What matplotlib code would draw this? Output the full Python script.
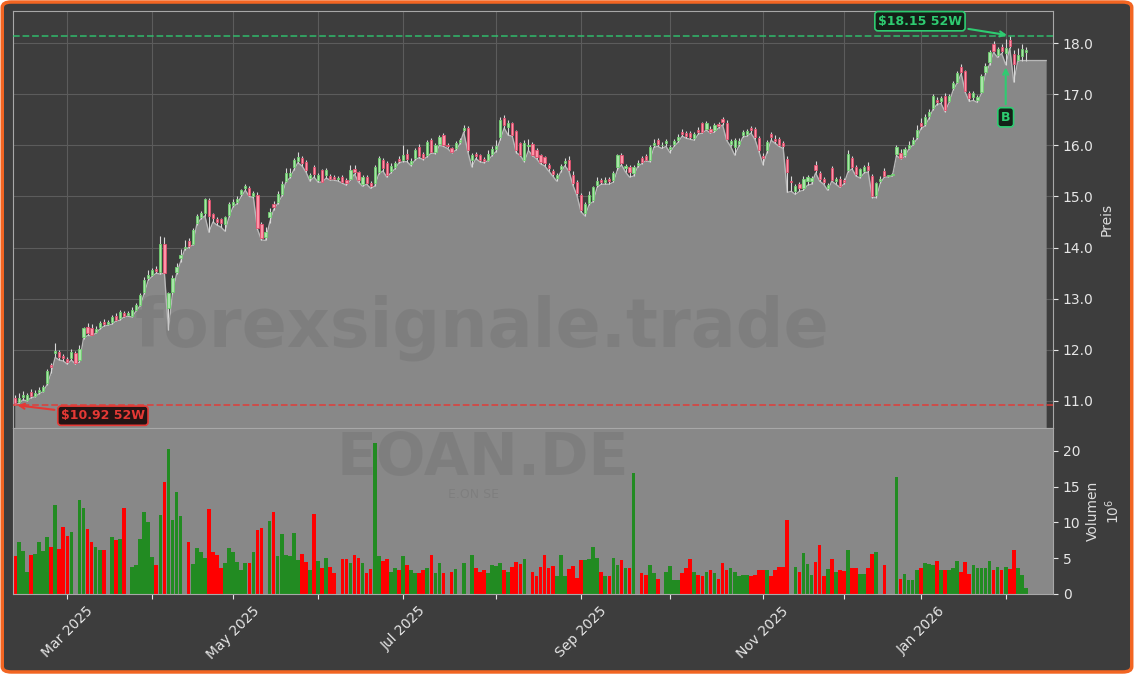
import matplotlib
matplotlib.use('Agg')
import matplotlib.pyplot as plt
import numpy as np
import pandas as pd
from matplotlib.patches import FancyBboxPatch

# XETRA trading days shown in the chart
holidays = ['2025-04-18', '2025-04-21', '2025-05-01', '2025-12-24',
            '2025-12-25', '2025-12-26', '2025-12-31', '2026-01-01']
dates = pd.bdate_range('2025-02-12', '2026-02-09')
dates = dates[~dates.isin(pd.to_datetime(holidays))]

opens = [11.06, 10.97, 11.08, 11.02, 11.17, 11.10, 11.18, 11.20, 11.35, 11.70,
         11.93, 11.95, 11.88, 11.82, 11.84, 11.93, 11.80, 12.26, 12.45, 12.42,
         12.34, 12.44, 12.55, 12.50, 12.55, 12.67, 12.62, 12.72, 12.68, 12.66,
         12.78, 12.88, 13.14, 13.40, 13.46, 13.58, 13.52, 14.07, 12.81, 13.14,
         13.52, 13.80, 14.00, 14.12, 14.08, 14.48, 14.60, 14.68, 14.94, 14.65,
         14.56, 14.55, 14.47, 14.64, 14.84, 14.90, 15.04, 15.16, 15.16, 15.00,
         15.03, 14.47, 14.20, 14.60, 14.86, 14.90, 15.05, 15.30, 15.40, 15.58,
         15.70, 15.76, 15.68, 15.36, 15.58, 15.32, 15.52, 15.42, 15.40, 15.39,
         15.34, 15.39, 15.32, 15.35, 15.53, 15.48, 15.24, 15.39, 15.26, 15.26,
         15.48, 15.71, 15.65, 15.50, 15.58, 15.74, 15.72, 15.84, 15.64, 15.75,
         15.97, 15.84, 15.81, 16.10, 15.88, 16.03, 16.21, 16.00, 15.94, 15.94,
         16.06, 16.30, 16.35, 15.71, 15.84, 15.81, 15.74, 15.72, 15.84, 15.92,
         16.17, 16.53, 16.36, 16.44, 16.28, 16.04, 15.72, 15.98, 16.03, 15.90,
         15.81, 15.78, 15.61, 15.50, 15.37, 15.53, 15.65, 15.72, 15.42, 15.29,
         15.03, 14.67, 14.88, 14.93, 15.22, 15.32, 15.28, 15.34, 15.32, 15.58,
         15.81, 15.55, 15.58, 15.45, 15.62, 15.76, 15.79, 15.71, 16.00, 16.10,
         16.00, 16.04, 15.92, 16.02, 16.10, 16.26, 16.24, 16.24, 16.14, 16.30,
         16.43, 16.33, 16.33, 16.30, 16.42, 16.52, 16.43, 16.03, 15.97, 16.02,
         16.20, 16.22, 16.34, 16.33, 16.14, 15.80, 15.91, 16.22, 16.12, 16.12,
         16.04, 15.73, 15.30, 15.10, 15.24, 15.16, 15.30, 15.30, 15.62, 15.46,
         15.34, 15.16, 15.55, 15.30, 15.35, 15.32, 15.51, 15.76, 15.58, 15.40,
         15.50, 15.60, 15.40, 15.02, 15.30, 15.50, 15.40, 15.42, 15.83, 15.85,
         15.82, 15.94, 16.02, 16.16, 16.44, 16.42, 16.58, 16.74, 16.89, 16.86,
         16.96, 16.87, 17.12, 17.25, 17.53, 17.45, 17.02, 16.94, 16.88, 17.05,
         17.44, 17.63, 17.98, 17.77, 17.93, 17.80, 18.06, 17.78, 17.68, 17.74,
         17.82]
highs = [11.12, 11.15, 11.20, 11.16, 11.24, 11.22, 11.28, 11.32, 11.62, 11.74,
         12.13, 12.00, 11.92, 11.85, 12.02, 11.98, 12.10, 12.45, 12.52, 12.50,
         12.46, 12.56, 12.60, 12.58, 12.68, 12.72, 12.78, 12.76, 12.76, 12.84,
         12.92, 13.12, 13.42, 13.56, 13.60, 13.64, 14.23, 14.20, 13.14, 13.46,
         13.70, 13.98, 14.15, 14.18, 14.38, 14.66, 14.72, 14.98, 14.97, 14.68,
         14.60, 14.58, 14.62, 14.90, 14.95, 15.00, 15.15, 15.24, 15.20, 15.10,
         15.08, 14.50, 14.40, 14.78, 14.92, 15.10, 15.30, 15.55, 15.55, 15.76,
         15.87, 15.80, 15.72, 15.46, 15.62, 15.46, 15.54, 15.56, 15.44, 15.42,
         15.40, 15.42, 15.36, 15.62, 15.62, 15.50, 15.42, 15.42, 15.30, 15.62,
         15.80, 15.76, 15.70, 15.66, 15.70, 15.80, 16.00, 15.92, 15.76, 15.95,
         16.02, 15.88, 16.10, 16.14, 16.04, 16.20, 16.24, 16.04, 15.96, 16.08,
         16.14, 16.40, 16.38, 15.86, 15.88, 15.84, 15.78, 15.90, 15.98, 16.10,
         16.56, 16.60, 16.50, 16.46, 16.30, 16.06, 16.10, 16.12, 16.06, 15.94,
         15.84, 15.80, 15.66, 15.54, 15.46, 15.64, 15.76, 15.80, 15.50, 15.32,
         15.06, 14.90, 15.10, 15.20, 15.38, 15.36, 15.38, 15.38, 15.50, 15.84,
         15.86, 15.64, 15.62, 15.62, 15.72, 15.80, 15.84, 16.00, 16.12, 16.14,
         16.06, 16.12, 16.00, 16.12, 16.22, 16.32, 16.28, 16.28, 16.26, 16.36,
         16.46, 16.48, 16.38, 16.44, 16.46, 16.56, 16.50, 16.12, 16.14, 16.14,
         16.30, 16.32, 16.38, 16.36, 16.18, 15.86, 16.10, 16.26, 16.20, 16.16,
         16.08, 15.80, 15.40, 15.24, 15.28, 15.40, 15.42, 15.40, 15.70, 15.50,
         15.38, 15.26, 15.60, 15.38, 15.40, 15.36, 15.90, 15.80, 15.62, 15.56,
         15.62, 15.68, 15.44, 15.28, 15.40, 15.56, 15.42, 15.46, 16.00, 15.92,
         15.96, 16.08, 16.16, 16.40, 16.54, 16.62, 16.72, 17.00, 16.94, 16.96,
         17.02, 17.00, 17.26, 17.46, 17.60, 17.48, 17.06, 17.06, 16.98, 17.40,
         17.62, 17.86, 18.04, 17.92, 17.98, 18.08, 18.15, 17.86, 17.90, 17.98,
         17.92]
lows = [10.92, 10.95, 11.02, 11.00, 11.06, 11.08, 11.14, 11.18, 11.32, 11.55,
        11.85, 11.80, 11.78, 11.72, 11.80, 11.72, 11.76, 12.22, 12.28, 12.28,
        12.32, 12.40, 12.46, 12.48, 12.50, 12.56, 12.58, 12.64, 12.66, 12.64,
        12.76, 12.86, 13.10, 13.36, 13.44, 13.50, 13.48, 13.50, 12.39, 13.10,
        13.48, 13.72, 13.96, 14.00, 14.05, 14.45, 14.56, 14.62, 14.30, 14.50,
        14.44, 14.40, 14.32, 14.60, 14.80, 14.86, 15.00, 15.12, 15.00, 14.98,
        14.36, 14.15, 14.14, 14.48, 14.74, 14.86, 15.00, 15.28, 15.36, 15.52,
        15.66, 15.60, 15.48, 15.30, 15.38, 15.28, 15.28, 15.36, 15.32, 15.32,
        15.30, 15.26, 15.22, 15.32, 15.44, 15.28, 15.20, 15.24, 15.16, 15.20,
        15.44, 15.50, 15.38, 15.46, 15.54, 15.66, 15.68, 15.68, 15.60, 15.72,
        15.76, 15.72, 15.78, 15.85, 15.84, 16.00, 15.98, 15.94, 15.86, 15.90,
        16.02, 16.26, 15.88, 15.58, 15.74, 15.68, 15.66, 15.70, 15.80, 15.88,
        16.10, 16.34, 16.20, 16.18, 15.86, 15.80, 15.68, 15.90, 15.80, 15.74,
        15.64, 15.60, 15.50, 15.40, 15.30, 15.48, 15.60, 15.50, 15.22, 15.02,
        14.70, 14.62, 14.84, 14.90, 15.18, 15.24, 15.24, 15.24, 15.28, 15.52,
        15.62, 15.48, 15.38, 15.40, 15.58, 15.64, 15.70, 15.68, 15.96, 15.98,
        15.94, 15.98, 15.86, 15.98, 16.06, 16.18, 16.14, 16.12, 16.10, 16.22,
        16.24, 16.30, 16.24, 16.26, 16.34, 16.40, 16.10, 15.98, 15.81, 15.98,
        16.16, 16.18, 16.24, 16.12, 15.88, 15.62, 15.86, 16.10, 16.04, 15.98,
        15.94, 15.08, 15.10, 15.04, 15.10, 15.12, 15.22, 15.24, 15.46, 15.30,
        15.24, 15.12, 15.30, 15.24, 15.18, 15.24, 15.48, 15.54, 15.40, 15.36,
        15.46, 15.48, 14.98, 14.98, 15.26, 15.38, 15.38, 15.40, 15.80, 15.74,
        15.78, 15.92, 16.00, 16.12, 16.32, 16.38, 16.52, 16.70, 16.80, 16.82,
        16.66, 16.84, 17.08, 17.22, 17.40, 17.04, 16.86, 16.88, 16.84, 17.02,
        17.40, 17.58, 17.82, 17.72, 17.80, 17.58, 17.90, 17.24, 17.66, 17.66,
        17.66]
closes = [10.95, 11.06, 11.12, 11.12, 11.09, 11.16, 11.22, 11.28, 11.58, 11.66,
          11.97, 11.85, 11.83, 11.76, 11.96, 11.74, 12.02, 12.42, 12.32, 12.29,
          12.40, 12.52, 12.50, 12.54, 12.64, 12.58, 12.73, 12.66, 12.72, 12.78,
          12.88, 13.07, 13.37, 13.46, 13.56, 13.54, 14.07, 13.51, 13.11, 13.40,
          13.62, 13.86, 14.02, 14.04, 14.34, 14.62, 14.68, 14.96, 14.62, 14.58,
          14.50, 14.48, 14.60, 14.86, 14.90, 14.96, 15.12, 15.20, 15.02, 15.06,
          14.38, 14.18, 14.30, 14.69, 14.80, 15.04, 15.24, 15.46, 15.46, 15.71,
          15.78, 15.66, 15.52, 15.42, 15.44, 15.42, 15.29, 15.52, 15.35, 15.34,
          15.36, 15.29, 15.27, 15.52, 15.48, 15.32, 15.39, 15.27, 15.20, 15.58,
          15.76, 15.55, 15.42, 15.60, 15.65, 15.70, 15.82, 15.74, 15.70, 15.90,
          15.79, 15.75, 16.06, 15.88, 16.00, 16.16, 16.00, 15.98, 15.88, 16.04,
          16.10, 16.35, 15.91, 15.82, 15.79, 15.71, 15.70, 15.84, 15.92, 15.98,
          16.50, 16.40, 16.44, 16.20, 15.90, 15.82, 16.04, 16.00, 15.81, 15.78,
          15.68, 15.65, 15.55, 15.44, 15.42, 15.60, 15.69, 15.52, 15.26, 15.06,
          14.74, 14.85, 15.02, 15.18, 15.30, 15.28, 15.32, 15.30, 15.46, 15.81,
          15.65, 15.60, 15.48, 15.58, 15.66, 15.68, 15.72, 15.97, 16.05, 16.02,
          16.00, 16.09, 15.96, 16.08, 16.16, 16.22, 16.18, 16.16, 16.23, 16.26,
          16.27, 16.43, 16.27, 16.40, 16.38, 16.46, 16.12, 16.09, 16.10, 16.08,
          16.27, 16.28, 16.30, 16.16, 15.91, 15.76, 16.07, 16.17, 16.08, 16.01,
          15.98, 15.47, 15.28, 15.20, 15.16, 15.34, 15.38, 15.36, 15.51, 15.34,
          15.28, 15.22, 15.33, 15.35, 15.21, 15.28, 15.83, 15.58, 15.44, 15.53,
          15.58, 15.51, 15.01, 15.26, 15.35, 15.40, 15.40, 15.43, 15.96, 15.76,
          15.92, 16.01, 16.10, 16.30, 16.38, 16.55, 16.66, 16.96, 16.84, 16.92,
          16.69, 16.97, 17.22, 17.42, 17.43, 17.07, 16.93, 17.02, 16.94, 17.36,
          17.56, 17.82, 17.84, 17.88, 17.84, 17.90, 17.95, 17.60, 17.76, 17.88,
          17.86]
volumes = [5.3, 7.2, 6.0, 3.1, 5.5, 5.6, 7.2, 6.0, 7.9, 6.5,
           12.5, 6.3, 9.3, 8.1, 8.6, 0, 13.2, 12.0, 9.1, 7.3,
           6.6, 6.1, 6.1, 0, 7.9, 7.5, 7.7, 12.0, 0, 3.8,
           4.1, 7.7, 11.5, 10.1, 5.2, 4.1, 11.05, 15.6, 20.2, 10.35,
           14.2, 10.9, 0, 7.2, 4.2, 6.4, 5.8, 5.0, 11.9, 5.8,
           5.5, 3.7, 4.4, 6.4, 5.8, 4.5, 3.3, 4.4, 4.4, 5.8,
           8.9, 9.2, 0, 10.2, 11.4, 5.3, 8.4, 5.5, 5.3, 8.5,
           4.8, 5.6, 4.5, 3.4, 11.2, 4.6, 3.7, 5.0, 3.8, 3.0,
           0, 4.85, 4.85, 4.4, 5.5, 5.1, 4.4, 3.0, 3.45, 21.07,
           5.3, 4.6, 4.85, 3.1, 3.6, 3.4, 5.3, 4.06, 3.4, 3.0,
           2.9, 3.4, 3.6, 5.5, 2.9, 4.4, 2.9, 0, 3.1, 3.45,
           0, 4.4, 0, 5.5, 3.6, 3.1, 3.4, 2.9, 4.06, 3.9,
           4.4, 3.4, 3.1, 3.8, 4.5, 4.2, 4.85, 0, 3.1, 2.5,
           3.8, 5.45, 3.7, 3.9, 2.5, 5.45, 2.5, 3.45, 3.9, 2.3,
           4.8, 4.8, 4.85, 6.6, 5.0, 3.1, 2.5, 2.5, 5.0, 4.06,
           4.7, 3.6, 3.7, 16.9, 0, 3.0, 2.65, 4.06, 2.9, 2.05,
           0, 3.1, 3.9, 1.9, 2.0, 2.9, 3.6, 4.85, 3.1, 2.6,
           2.5, 3.1, 3.4, 2.9, 2.05, 4.4, 3.3, 3.6, 3.1, 2.5,
           2.6, 2.7, 2.5, 2.6, 3.3, 3.3, 3.3, 2.5, 3.3, 3.8,
           3.8, 10.4, 0, 3.8, 3.1, 5.75, 4.2, 2.6, 4.5, 6.9,
           2.5, 3.5, 4.9, 3.1, 3.3, 3.2, 6.2, 3.7, 3.7, 2.8,
           2.8, 3.7, 5.6, 5.9, 0, 4.1, 0, 0, 16.3, 2.1,
           2.8, 2.0, 2.0, 3.3, 3.7, 4.4, 4.2, 4.1, 4.6, 3.3,
           3.3, 3.3, 3.7, 4.6, 3.1, 4.5, 2.8, 4.0, 3.7, 3.7,
           3.7, 4.6, 3.3, 3.8, 3.4, 3.8, 3.5, 6.2, 3.6, 2.6, 0.8]
fill_tail = [17.66, 17.66, 17.66, 17.66, 17.66]

high_52w = 18.15
low_52w = 10.92
buy_idx = 245

o = np.array(opens)
h = np.array(highs)
l = np.array(lows)
c = np.array(closes)
v = np.array(volumes)
n = len(c)
x = np.arange(n)
up = c >= o

bg = '#3d3d3d'
txt = '#e6e6e6'
green_txt = '#2ecc71'
red_txt = '#e53935'

fig = plt.figure(figsize=(11.34, 6.74), dpi=100, facecolor='white')
fig.patches.append(FancyBboxPatch((0.002, 0.003), 0.996, 0.994,
                                  boxstyle='round,pad=0,rounding_size=0.008',
                                  transform=fig.transFigure, fc=bg,
                                  ec='#f26522', lw=2.5, zorder=-10))

ax1 = fig.add_axes([0.0115, 0.365, 0.9171, 0.6187])
ax2 = fig.add_axes([0.0115, 0.1187, 0.9171, 0.2463], sharex=ax1)
ax1.set_facecolor(bg)
ax2.set_facecolor('#888888')

# price area (lows) + candles
xf = np.concatenate([x, np.arange(n, n + len(fill_tail))])
lf = np.concatenate([l, fill_tail])
ymin, ymax = 10.47, 18.63
ax1.fill_between(xf, lf, ymin, color='#888888', zorder=2, lw=0)
ax1.plot(xf, lf, color='#b8b8b8', lw=1, zorder=2.5)
ax1.vlines(x, l, h, color='#d8d8d8', lw=0.8, zorder=3)
body_bottom = np.minimum(o, c)
body_h = np.maximum(np.abs(c - o), 0.015)
ax1.bar(x[up], body_h[up], bottom=body_bottom[up], width=0.55,
        color='#a8e6a8', edgecolor='#6fcf6f', lw=0.6, zorder=4)
ax1.bar(x[~up], body_h[~up], bottom=body_bottom[~up], width=0.55,
        color='#ff93a8', edgecolor='#e0506e', lw=0.6, zorder=4)

ax1.axhline(high_52w, color=green_txt, ls='--', lw=1.3, alpha=0.75, zorder=5)
ax1.axhline(low_52w, color=red_txt, ls='--', lw=1.3, alpha=0.8, zorder=5)

ax1.annotate(r'\$18.15 52W', xy=(246, high_52w), xytext=(223.8, 18.43),
             ha='center', va='center', color=green_txt, fontsize=9, fontweight='bold',
             bbox=dict(boxstyle='round,pad=0.25', fc='#142018', ec=green_txt, lw=1.2),
             arrowprops=dict(arrowstyle='->', color=green_txt, lw=1.5), zorder=8)
ax1.annotate(r'\$10.92 52W', xy=(0, low_52w), xytext=(21.8, 10.71),
             ha='center', va='center', color=red_txt, fontsize=9, fontweight='bold',
             bbox=dict(boxstyle='round,pad=0.25', fc='#241414', ec=red_txt, lw=1.2),
             arrowprops=dict(arrowstyle='->', color=red_txt, lw=1.5), zorder=8)
ax1.annotate('B', xy=(buy_idx, l[buy_idx]), xytext=(buy_idx, 16.55),
             ha='center', va='center', color=green_txt, fontsize=9, fontweight='bold',
             bbox=dict(boxstyle='round,pad=0.25', fc='#142018', ec=green_txt, lw=1.2),
             arrowprops=dict(arrowstyle='->', color=green_txt, lw=1.5), zorder=8)

ax1.set_ylim(ymin, ymax)
ax1.set_xlim(-0.42, 256.7)
ax1.set_yticks(np.arange(11, 19, 1))
ax1.yaxis.set_major_formatter(matplotlib.ticker.FormatStrFormatter('%.1f'))
ax1.yaxis.tick_right()
ax1.yaxis.set_label_position('right')
ax1.set_ylabel('Preis', color='#dddddd', fontsize=10)
ax1.tick_params(axis='y', colors=txt, labelsize=10)
ax1.tick_params(axis='x', labelbottom=False, length=0)
ax1.grid(True, color='#5c5c5c', lw=0.8)
ax1.set_axisbelow(True)

# volume
vcol = np.where(up, '#228b22', '#ff0000')
ax2.bar(x, v, width=0.9, color=vcol, zorder=2)
ax2.set_ylim(0, 23.2)
ax2.set_yticks([0, 5, 10, 15, 20])
ax2.yaxis.tick_right()
ax2.yaxis.set_label_position('right')
ax2.set_ylabel('Volumen\n$10^6$', color='#dddddd', fontsize=10)
ax2.tick_params(axis='y', colors=txt, labelsize=10)

# month ticks, label every other month
months = pd.Series(dates.month)
month_idx = [0] + [i for i in range(1, n) if months[i] != months[i - 1]]
month_idx = [i for i in month_idx if dates[i].day <= 7]
labels = [dates[i].strftime('%b %Y') if dates[i].month % 2 == 1 else '' for i in month_idx]
ax2.set_xticks(month_idx)
ax2.set_xticklabels(labels, rotation=45, fontsize=10)
ax2.tick_params(axis='x', colors=txt)

for ax in (ax1, ax2):
    for s in ax.spines.values():
        s.set_color('#a8a8a8')

# watermarks
fig.text(482 / 1134, 1 - 328 / 674, 'forexsignale.trade', fontsize=48, fontweight='bold',
         color='black', alpha=0.065, ha='center', va='center', zorder=10)
fig.text(483 / 1134, 1 - 458 / 674, 'EOAN.DE', fontsize=42, fontweight='bold',
         color='black', alpha=0.065, ha='center', va='center', zorder=10)
fig.text(474 / 1134, 1 - 494 / 674, 'E.ON SE', fontsize=9,
         color='black', alpha=0.065, ha='center', va='center', zorder=10)

fig.savefig('out.png', dpi=100, facecolor=fig.get_facecolor())
